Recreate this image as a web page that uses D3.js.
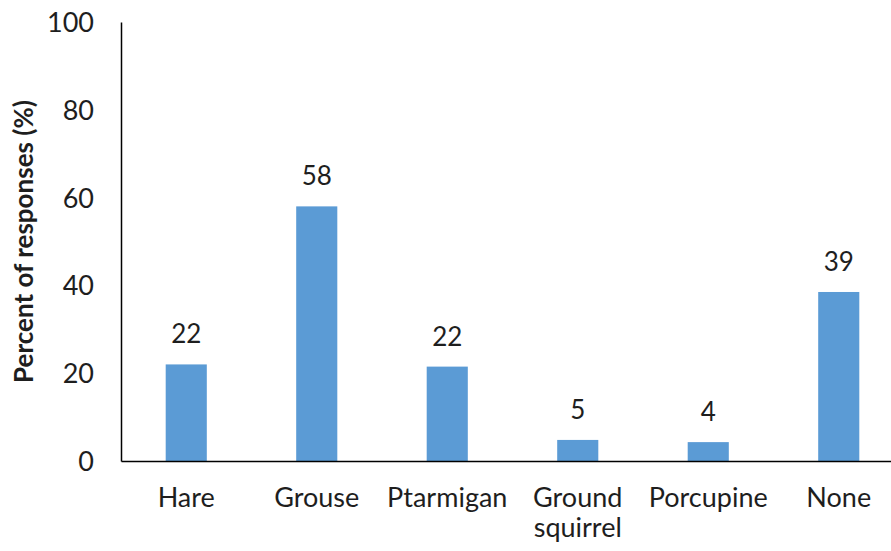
<html>
<head>
<script src="https://d3js.org/d3.v7.min.js"></script>
<style>
body { margin: 0; background: #fff; }
svg { display: block; }
text { font-family: Lato, 'Open Sans', sans-serif; fill: #1e1e1e; }
</style>
</head>
<body>
<svg></svg>
<script>

var width = 891;
var height = 551;

// Data
var categories = ["Hare", "Grouse", "Ptarmigan", "Ground squirrel", "Porcupine", "None"];
var values = [22, 58, 21.5, 4.8, 4.3, 38.5];
var yTicks = [0, 20, 40, 60, 80, 100];

var plotLeft = 121;
var plotRight = 904;   // the plot runs off the right edge of the image
var plotTop = 22;
var plotBottom = 461;

var svg = d3.select("svg").attr("width", width).attr("height", height);

var xScale = d3.scaleBand()
	.domain(categories)
	.range([plotLeft, plotRight])
	.paddingInner(0.685)
	.paddingOuter(0.3425);

var yScale = d3.scaleLinear()
	.domain([0, 100])
	.range([plotBottom, plotTop]);

// bars
svg.selectAll("rect.bar").data(categories).enter().append("rect")
	.attr("class", "bar")
	.attr("x", function (d) { return xScale(d); })
	.attr("width", xScale.bandwidth())
	.attr("y", function (d, i) { return yScale(values[i]); })
	.attr("height", function (d, i) { return yScale(0) - yScale(values[i]); })
	.style("fill", "#5B9BD5");

// value labels
svg.selectAll("text.value").data(categories).enter().append("text")
	.attr("class", "value")
	.attr("x", function (d) { return xScale(d) + xScale.bandwidth() / 2; })
	.attr("y", function (d, i) { return yScale(values[i]) - 21; })
	.attr("text-anchor", "middle")
	.style("font-size", "26px")
	.text(function (d, i) { return Math.round(values[i]); });

// y axis
var yAxis = d3.axisLeft(yScale).tickValues(yTicks).tickSize(0).tickPadding(27);
var yG = svg.append("g").attr("transform", "translate(" + plotLeft + ",0)").call(yAxis);
yG.select(".domain").attr("stroke", "#000").attr("stroke-width", 1.5);
yG.selectAll("text").style("font-size", "27px").style("fill", "#1e1e1e").attr("dy", "0.35em");

// x axis
var xAxis = d3.axisBottom(xScale).tickSize(0).tickFormat("");
var xG = svg.append("g").attr("transform", "translate(0," + plotBottom + ")").call(xAxis);
xG.select(".domain").attr("stroke", "#000").attr("stroke-width", 1.5);

// category labels, wrapped onto two lines where needed
svg.selectAll("text.cat").data(categories).enter().append("text")
	.attr("class", "cat")
	.attr("text-anchor", "middle")
	.style("font-size", "27px")
	.each(function (d) {
		var words = d.split(" ");
		var t = d3.select(this);
		words.forEach(function (w, k) {
			t.append("tspan")
				.attr("x", xScale(d) + xScale.bandwidth() / 2)
				.attr("y", 507 + k * 30)
				.text(w);
		});
	});

// y axis title
svg.append("text")
	.attr("transform", "translate(33," + (plotTop + plotBottom) / 2 + ") rotate(-90)")
	.attr("text-anchor", "middle")
	.style("font-size", "26px")
	.style("font-weight", "bold")
	.text("Percent of responses (%)");

</script>
</body>
</html>
